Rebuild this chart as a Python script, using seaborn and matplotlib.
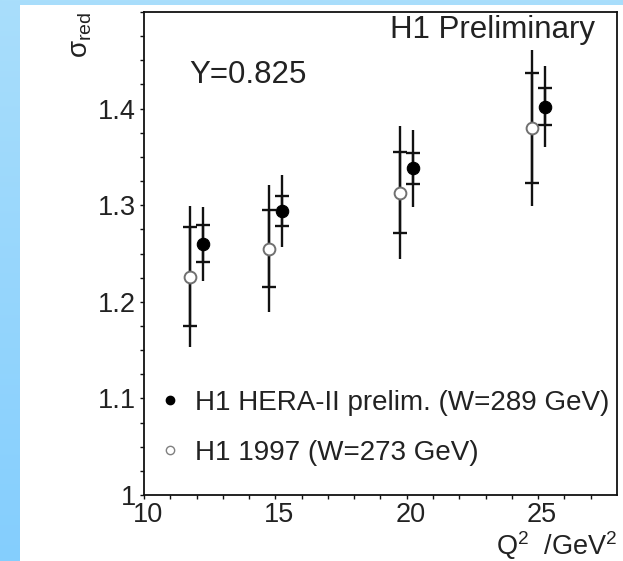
import numpy as np
import pandas as pd
import matplotlib
matplotlib.use("Agg")
import matplotlib.pyplot as plt
import matplotlib.transforms as mtransforms
from matplotlib.lines import Line2D
from matplotlib.patches import Rectangle
import seaborn as sns

# Reduced cross section at y = 0.825, two data sets
hera_q2 = [12.25, 15.25, 20.25, 25.25]
hera_sigma = [1.260, 1.294, 1.338, 1.402]
hera_stat = [0.019, 0.016, 0.016, 0.019]
hera_total = [0.038, 0.037, 0.040, 0.042]

h97_q2 = [11.75, 14.75, 19.75, 24.75]
h97_sigma = [1.226, 1.255, 1.313, 1.380]
h97_stat = [0.051, 0.040, 0.042, 0.057]
h97_total = [0.073, 0.066, 0.069, 0.081]

labels = ["H1 HERA-II prelim. (W=289 GeV)", "H1 1997 (W=273 GeV)"]
x_ticks = [10, 15, 20, 25]
y_ticks = [1.0, 1.1, 1.2, 1.3, 1.4]
y_tick_labels = ["1", "1.1", "1.2", "1.3", "1.4"]

sns.set_theme(style="ticks")
plt.rcParams["font.family"] = ["Liberation Sans", "DejaVu Sans"]
plt.rcParams["mathtext.fontset"] = "custom"
plt.rcParams["mathtext.rm"] = "Liberation Sans"
plt.rcParams["mathtext.it"] = "Liberation Sans:italic"

W, H = 623, 561
fig = plt.figure(figsize=(W / 100, H / 100), dpi=100)

# slide-style background: light blue gradient with a white panel
bg = fig.add_axes([0, 0, 1, 1], zorder=-10)
grad = np.linspace(0, 1, 256).reshape(-1, 1)
cmap = matplotlib.colors.LinearSegmentedColormap.from_list("bg", ["#a9defb", "#84cefe"])
bg.imshow(grad, aspect="auto", cmap=cmap, extent=[0, 1, 0, 1], origin="upper")
bg.add_patch(Rectangle((20 / W, 0), 1, (H - 5) / H, transform=bg.transAxes,
                       facecolor="white", edgecolor="none"))
bg.set_axis_off()

ax = fig.add_axes([144 / W, (H - 495) / H, (617 - 144) / W, (495 - 12) / H])
ax.set_facecolor("white")

df_hera = pd.DataFrame({"q2": hera_q2, "sigma": hera_sigma})
df_97 = pd.DataFrame({"q2": h97_q2, "sigma": h97_sigma})

ink = "#111111"
text_col = "#222222"
for q2, sig, stat, tot in [(hera_q2, hera_sigma, hera_stat, hera_total),
                           (h97_q2, h97_sigma, h97_stat, h97_total)]:
    ax.errorbar(q2, sig, yerr=tot, fmt="none", ecolor=ink, elinewidth=1.7,
                capsize=0, zorder=2)
    ax.errorbar(q2, sig, yerr=stat, fmt="none", ecolor=ink, elinewidth=1.7,
                capsize=5.2, capthick=1.7, zorder=2)

sns.scatterplot(data=df_hera, x="q2", y="sigma", ax=ax, s=80, color="black",
                edgecolor="black", linewidth=0.8, zorder=4, legend=False)
sns.scatterplot(data=df_97, x="q2", y="sigma", ax=ax, s=72, color="white",
                edgecolor="#707070", linewidth=1.4, zorder=4, legend=False)

ax.set_xlim(10, 28)
ax.set_ylim(1.0, 1.5)
ax.set_xticks(x_ticks)
ax.set_xticklabels([str(t) for t in x_ticks])
ax.set_yticks(y_ticks)
ax.set_yticklabels(y_tick_labels)
ax.set_xticks(np.arange(11, 28, 1), minor=True)
ax.set_yticks(np.arange(1.025, 1.5, 0.025), minor=True)
ax.tick_params(which="both", direction="out", length=2.8, width=1.0, color=ink,
               labelsize=19.5, labelcolor=text_col)
ax.tick_params(axis="x", pad=2.5)
ax.tick_params(axis="y", pad=3.0)
# nudge the x tick labels slightly right, clear of the "1" at the origin
shift = mtransforms.ScaledTranslation(4 / 100, 0, fig.dpi_scale_trans)
for lab in ax.get_xticklabels():
    lab.set_transform(lab.get_transform() + shift)
ax.set_xlabel("")
ax.set_ylabel("")
for sp in ax.spines.values():
    sp.set_color(ink)
    sp.set_linewidth(1.3)
    sp.set_visible(True)

ax.text(0.953, 0.946, "H1 Preliminary", transform=ax.transAxes, ha="right",
        va="baseline", fontsize=22.5, color=text_col)
ax.text(0.095, 0.853, "Y=0.825", transform=ax.transAxes, ha="left",
        va="baseline", fontsize=22.5, color=text_col)

handles = [
    Line2D([], [], ls="", marker="o", ms=6, mfc="black", mec="black"),
    Line2D([], [], ls="", marker="o", ms=6, mfc="white", mec="#808080", mew=1.0),
]
ax.legend(handles, labels, loc="center left", bbox_to_anchor=(0.0254, 0.139),
          frameon=False, fontsize=20, handlelength=1.0, handletextpad=0.4,
          labelspacing=0.88, borderpad=0, borderaxespad=0, labelcolor=text_col)

fig.text(81 / W, (H - 12) / H, "σ$_{\\mathrm{red}}$", rotation=90, ha="center",
         va="top", fontsize=20, color=text_col)
fig.text(617 / W, (H - 555) / H, "Q$^2$  /GeV$^2$", ha="right", va="baseline",
         fontsize=19.5, color=text_col)

fig.savefig("out.png", dpi=100)
